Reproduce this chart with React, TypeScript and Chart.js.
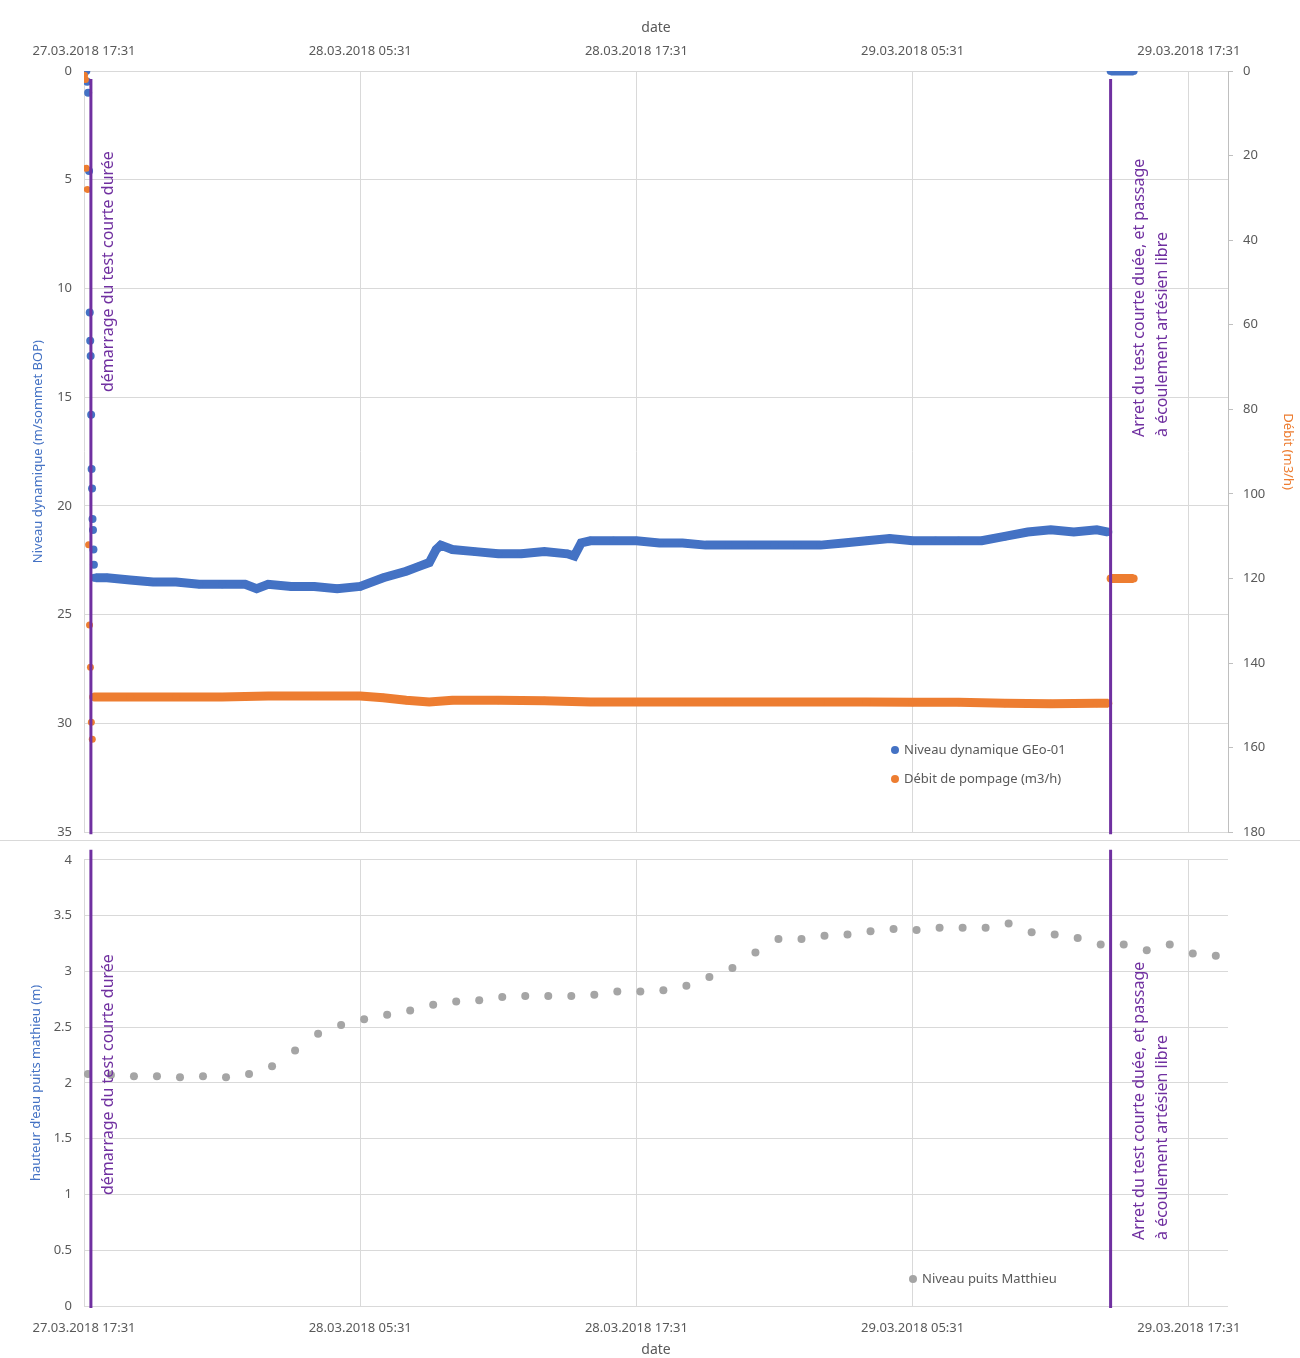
import React, { useEffect, useRef } from "react";
import { Chart, registerables } from "chart.js";
Chart.register(...registerables);

const xTickHours = [0, 12, 24, 36, 48];
const xTickLabels = ["27.03.2018 17:31", "28.03.2018 05:31", "28.03.2018 17:31", "29.03.2018 05:31", "29.03.2018 17:31"];
const startHour = 0.3;
const stopHour = 44.6;

const blueEarlyT = [0.0, 0.05, 0.1, 0.14, 0.18, 0.22, 0.25, 0.27, 0.29, 0.31, 0.33, 0.35, 0.37, 0.39, 0.41, 0.43, 0.45];
const blueEarlyV = [0, 0, 0, 0.5, 1, 4.6, 11.1, 12.4, 13.1, 15.8, 18.3, 19.2, 20.6, 21.1, 22, 22.7, 23.3];
const blueT = [0.5, 1, 2, 3, 4, 5, 6, 7, 7.5, 8, 9, 10, 11, 12, 13, 14, 14.5, 15, 15.3, 15.5, 16, 17, 18, 19, 20, 21, 21.3, 21.6, 22, 23, 24, 25, 26, 27, 28, 29, 30, 31, 32, 33, 34, 35, 36, 37, 38, 39, 40, 41, 42, 43, 44, 44.5];
const blueV = [23.3, 23.3, 23.4, 23.5, 23.5, 23.6, 23.6, 23.6, 23.8, 23.6, 23.7, 23.7, 23.8, 23.7, 23.3, 23.0, 22.8, 22.6, 22.0, 21.8, 22.0, 22.1, 22.2, 22.2, 22.1, 22.2, 22.3, 21.7, 21.6, 21.6, 21.6, 21.7, 21.7, 21.8, 21.8, 21.8, 21.8, 21.8, 21.8, 21.7, 21.6, 21.5, 21.6, 21.6, 21.6, 21.6, 21.4, 21.2, 21.1, 21.2, 21.1, 21.2];
const blueAfterT = [44.6, 45.0, 45.6];
const blueAfterV = [0, 0, 0];

const orangeEarlyT = [0.02, 0.06, 0.1, 0.14, 0.2, 0.24, 0.28, 0.32, 0.36];
const orangeEarlyV = [1, 2, 23, 28, 112, 131, 141, 154, 158];
const orangeT = [0.4, 2, 4, 6, 8, 10, 12, 13, 14, 15, 16, 18, 20, 22, 24, 26, 28, 30, 32, 34, 36, 38, 40, 42, 44, 44.5];
const orangeV = [148, 148, 148, 148, 147.8, 147.8, 147.8, 148.2, 148.8, 149.2, 148.8, 148.8, 148.9, 149.2, 149.2, 149.2, 149.2, 149.2, 149.2, 149.2, 149.3, 149.3, 149.5, 149.6, 149.5, 149.5];
const orangeAfterT = [44.6, 45.0, 45.6];
const orangeAfterV = [120, 120, 120];

const grayT = Array.from({ length: 50 }, (_, i) => i + 0.17);
const grayV = [2.08, 2.07, 2.06, 2.06, 2.05, 2.06, 2.05, 2.08, 2.15, 2.29, 2.44, 2.52, 2.57, 2.61, 2.65, 2.70, 2.73, 2.74, 2.77, 2.78, 2.78, 2.78, 2.79, 2.82, 2.82, 2.83, 2.87, 2.95, 3.03, 3.17, 3.29, 3.29, 3.32, 3.33, 3.36, 3.38, 3.37, 3.39, 3.39, 3.39, 3.43, 3.35, 3.33, 3.30, 3.24, 3.24, 3.19, 3.24, 3.16, 3.14];

const BLUE = "#4472c4";
const ORANGE = "#ed7d31";
const GRAY = "#a5a5a5";
const PURPLE = "#7030a0";
const TXT = "#595959";
const GRID = "#d9d9d9";
const FONT = "'Noto Sans', sans-serif";

const pts = (t: number[], v: number[]) => t.map((x, i) => ({ x, y: v[i] }));

const xTicksCfg = (pad: number) => ({
  color: TXT,
  font: { size: 13, family: FONT },
  maxRotation: 0,
  autoSkip: false,
  padding: pad,
  callback: (v: any) => {
    const i = xTickHours.indexOf(Number(v));
    return i >= 0 ? xTickLabels[i] : "";
  },
});

function annotPlugin(leftStartY: number, rightStartY: number, legend: { text: string; color: string; x: number; y: number }[], isTop: boolean) {
  return {
    id: "annot",
    afterDatasetsDraw(chart: any) {
      const ctx = chart.ctx;
      const xs = chart.scales.x;
      const ca = chart.chartArea;
      ctx.save();
      ctx.strokeStyle = PURPLE;
      ctx.lineWidth = 3;
      [startHour, stopHour].forEach((h) => {
        const px = xs.getPixelForValue(h);
        ctx.beginPath();
        ctx.moveTo(px, ca.top + (isTop ? 8 : -10));
        ctx.lineTo(px, ca.bottom + 2);
        ctx.stroke();
      });
      ctx.fillStyle = PURPLE;
      ctx.font = `16px ${FONT}`;
      ctx.textAlign = "left";
      ctx.textBaseline = "middle";
      const drawRot = (x: number, y: number, s: string) => {
        ctx.save();
        ctx.translate(x, y);
        ctx.rotate(-Math.PI / 2);
        ctx.fillText(s, 0, 0);
        ctx.restore();
      };
      const x0 = xs.getPixelForValue(startHour);
      const x1 = xs.getPixelForValue(stopHour);
      drawRot(x0 + 18, leftStartY, "démarrage du test courte durée");
      drawRot(x1 + 29, rightStartY, "Arret du test courte duée, et passage");
      drawRot(x1 + 52, rightStartY, "à écoulement artésien libre");
      ctx.font = `13px ${FONT}`;
      legend.forEach((l) => {
        ctx.fillStyle = l.color;
        ctx.beginPath();
        ctx.arc(l.x, l.y, 4, 0, Math.PI * 2);
        ctx.fill();
        ctx.fillStyle = TXT;
        ctx.fillText(l.text, l.x + 9, l.y);
      });
      ctx.restore();
    },
  };
}

export default function App() {
  const topRef = useRef<HTMLCanvasElement>(null);
  const botRef = useRef<HTMLCanvasElement>(null);
  useEffect(() => {
    document.body.style.margin = "0";
    const ds = (data: any, color: string, axis: string, r: number, line: boolean) => ({
      data,
      yAxisID: axis,
      backgroundColor: color,
      borderColor: color,
      pointRadius: r,
      pointHoverRadius: r,
      pointBorderWidth: 0,
      borderWidth: line ? 9 : 0,
      showLine: line,
    });
    const top = new Chart(topRef.current!, {
      type: "scatter",
      data: {
        datasets: [
          ds(pts(orangeEarlyT, orangeEarlyV), ORANGE, "y2", 3.5, false),
          ds(pts(orangeT, orangeV), ORANGE, "y2", 4, true),
          ds(pts(orangeAfterT, orangeAfterV), ORANGE, "y2", 4, true),
          ds(pts(blueEarlyT, blueEarlyV), BLUE, "y", 4, false),
          ds(pts(blueT, blueV), BLUE, "y", 4, true),
          ds(pts(blueAfterT, blueAfterV), BLUE, "y", 4, true),
        ] as any,
      },
      options: {
        animation: false,
        responsive: false,
        layout: { padding: { top: 0, bottom: 0, left: 0, right: 0 } },
        plugins: { legend: { display: false }, tooltip: { enabled: false } },
        scales: {
          x: {
            type: "linear",
            position: "top",
            min: 0,
            max: 49.7,
            afterBuildTicks: (s: any) => { s.ticks = xTickHours.map((v) => ({ value: v })); },
            afterFit: (s: any) => { s.height = 71; },
            ticks: xTicksCfg(12) as any,
            grid: { color: GRID, drawTicks: false },
            border: { display: false },
            title: { display: true, text: "date", color: TXT, font: { size: 14, family: FONT }, padding: { top: 20, bottom: 4 } },
          },
          y: {
            reverse: true,
            min: 0,
            max: 35,
            afterBuildTicks: (s: any) => { s.ticks = [0, 5, 10, 15, 20, 25, 30, 35].map((v) => ({ value: v })); },
            afterFit: (s: any) => { s.width = 84; },
            ticks: { color: TXT, font: { size: 13, family: FONT }, padding: 12 },
            grid: { color: GRID, drawTicks: false },
            border: { display: false },
            title: { display: true, text: "Niveau dynamique (m/sommet BOP)", color: BLUE, font: { size: 13, family: FONT }, padding: { top: 30, bottom: 0 } },
          },
          y2: {
            position: "right",
            reverse: true,
            min: 0,
            max: 180,
            afterBuildTicks: (s: any) => { s.ticks = [0, 20, 40, 60, 80, 100, 120, 140, 160, 180].map((v) => ({ value: v })); },
            afterFit: (s: any) => { s.width = 72; },
            ticks: { color: TXT, font: { size: 13, family: FONT }, padding: 10 },
            grid: { display: true, drawOnChartArea: false, color: "#bfbfbf", tickLength: 5 },
            border: { display: true, color: "#bfbfbf" },
            title: { display: true, text: "Débit (m3/h)", color: ORANGE, font: { size: 13, family: FONT } },
          },
        },
      },
      plugins: [annotPlugin(392, 437, [
        { text: "Niveau dynamique GEo-01", color: BLUE, x: 895, y: 750 },
        { text: "Débit de pompage (m3/h)", color: ORANGE, x: 895, y: 779 },
      ], true)],
    } as any);
    const bot = new Chart(botRef.current!, {
      type: "scatter",
      data: { datasets: [ds(pts(grayT, grayV), GRAY, "y", 4, false)] as any },
      options: {
        animation: false,
        responsive: false,
        layout: { padding: { top: 15, bottom: 0, left: 0, right: 72 } },
        plugins: { legend: { display: false }, tooltip: { enabled: false } },
        scales: {
          x: {
            type: "linear",
            min: 0,
            max: 49.7,
            afterBuildTicks: (s: any) => { s.ticks = xTickHours.map((v) => ({ value: v })); },
            afterFit: (s: any) => { s.height = 52; },
            ticks: xTicksCfg(14) as any,
            grid: { color: GRID, drawTicks: false },
            border: { display: false },
            title: { display: true, text: "date", color: TXT, font: { size: 14, family: FONT }, padding: { top: 4, bottom: 0 } },
          },
          y: {
            min: 0,
            max: 4,
            afterBuildTicks: (s: any) => { s.ticks = [0, 0.5, 1, 1.5, 2, 2.5, 3, 3.5, 4].map((v) => ({ value: v })); },
            afterFit: (s: any) => { s.width = 84; },
            ticks: { color: TXT, font: { size: 13, family: FONT }, padding: 12, callback: (v: any) => String(v) },
            grid: { color: GRID, drawTicks: false },
            border: { display: false },
            title: { display: true, text: "hauteur d'eau puits mathieu (m)", color: BLUE, font: { size: 13, family: FONT }, padding: { top: 28, bottom: 0 } },
          },
        },
      },
      plugins: [annotPlugin(355, 400, [{ text: "Niveau puits Matthieu", color: GRAY, x: 913, y: 439 }], false)],
    } as any);
    return () => { top.destroy(); bot.destroy(); };
  }, []);
  return (
    <div style={{ position: "relative", width: 1300, height: 1358, background: "#fff" }}>
      <canvas ref={topRef} width={1300} height={852} style={{ position: "absolute", left: 0, top: 0 }} />
      <div style={{ position: "absolute", left: 0, top: 840, width: 1300, height: 1, background: "#d9d9d9" }} />
      <canvas ref={botRef} width={1300} height={518} style={{ position: "absolute", left: 0, top: 840 }} />
    </div>
  );
}
